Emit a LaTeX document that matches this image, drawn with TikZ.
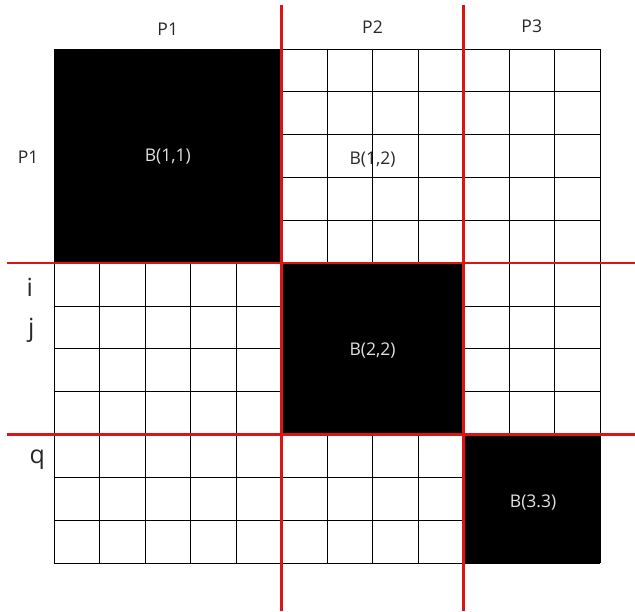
\documentclass[tikz,border=0pt]{standalone}
\usepackage{fontspec}
\setmainfont{Open Sans}
\usepackage{tikz}
\definecolor{gridred}{RGB}{220,20,20}
\definecolor{labgray}{RGB}{40,40,40}

\begin{document}
\begin{tikzpicture}[x=45.5pt,y=-42.83pt,
  lab/.style={text=labgray,font=\fontsize{17.5}{20}\selectfont,inner sep=0pt},
  blab/.style={text=white!88!black,font=\fontsize{17.5}{20}\selectfont,inner sep=0pt},
  big/.style={text=labgray,font=\fontsize{25}{28}\selectfont,inner sep=0pt,anchor=base},
  cut/.style={draw=gridred,line width=2.6pt}]
\useasboundingbox (-1.187,-1.144) rectangle (12.769,13.122);
% the 12x12 matrix
\foreach \k in {0,...,12} {
  \draw[line width=0.85pt] (\k,0) -- (\k,12);
  \draw[line width=0.85pt] (0,\k) -- (12,\k);
}
\fill (0,0) rectangle (5,5);
\fill (5,5) rectangle (9,9);
\fill (9,9) rectangle (12,12);
% partition lines
\draw[cut] (5,-1.03) -- (5,13.122);
\draw[cut] (9,-1.03) -- (9,13.122);
\draw[cut] (-1.03,5) -- (12.769,5);
\draw[cut] (-1.03,9) -- (12.769,9);
% labels
\node[lab] (colP1) at (2.5,-0.47) {P1};
\node[lab] (colP2) at (7,-0.5) {P2};
\node[lab] (colP3) at (10.5,-0.52) {P3};
\node[lab] (rowP1) at (-0.57,2.52) {P1};
\node[blab] (b11) at (2.5,2.52) {B(1,1)};
\node[lab] (b12) at (7,2.57) {B(1,2)};
\node[blab] (b22) at (7,7.05) {B(2,2)};
\node[blab] (b33) at (10.53,10.58) {B(3.3)};
\node[big] (ri) at (-0.53,5.79) {i};
\node[big] (rj) at (-0.5,6.72) {j};
\node[big] (rq) at (-0.37,9.67) {q};
\end{tikzpicture}
\end{document}
